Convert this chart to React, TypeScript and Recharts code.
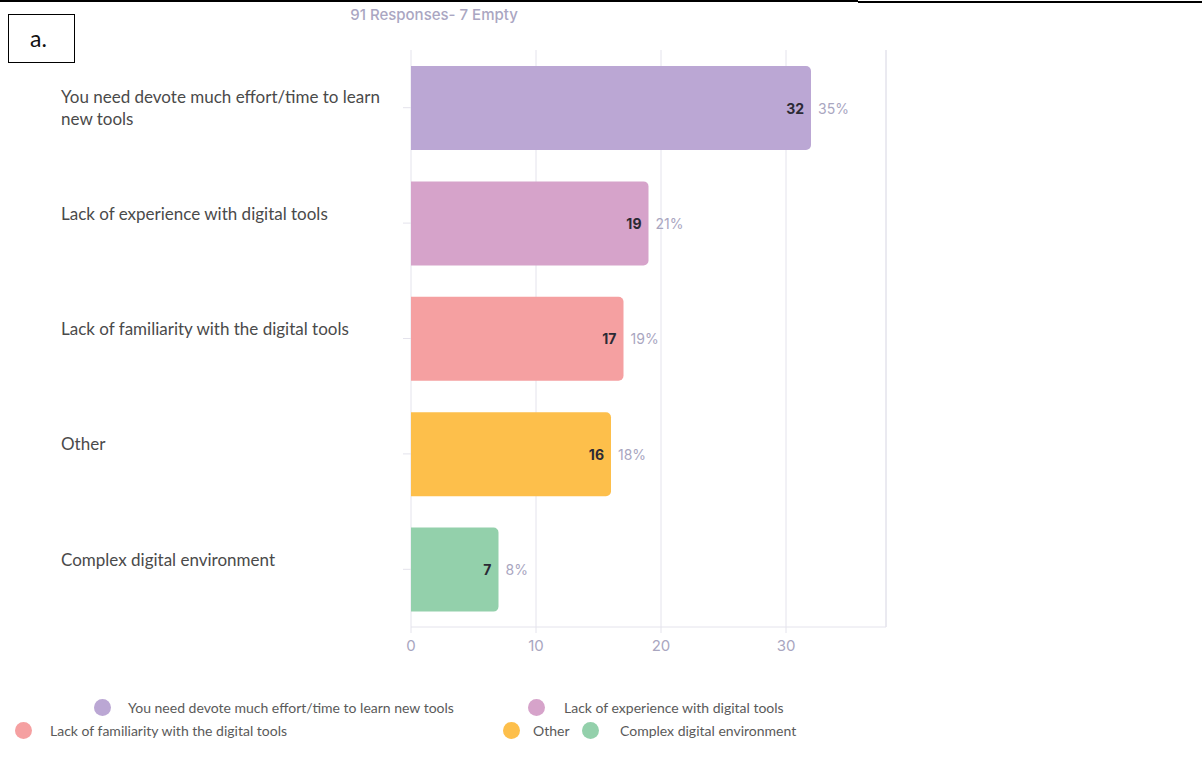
import React from "react";
import {
  BarChart,
  Bar,
  XAxis,
  YAxis,
  CartesianGrid,
  ReferenceLine,
  LabelList,
  Cell,
  Legend,
} from "recharts";

const categories = [
  "You need devote much effort/time to learn new tools",
  "Lack of experience with digital tools",
  "Lack of familiarity with the digital tools",
  "Other",
  "Complex digital environment",
];
const counts = [32, 19, 17, 16, 7];
const percents = [35, 21, 19, 18, 8];
const colors = ["#bba7d4", "#d6a3ca", "#f5a0a1", "#fdbf4b", "#93d0ab"];
const xTicks = [0, 10, 20, 30];
const xMax = 38;
const title = "91 Responses- 7 Empty";
const panelLabel = "a.";

const data = categories.map((name, i) => ({
  name,
  count: counts[i],
  pct: percents[i],
}));

const GRID = "#e4e3ec";
const MUTED = "#a9a6bf";
const LEGEND_H = 50;

function wrap(text: string, max: number): string[] {
  const words = text.split(" ");
  const lines: string[] = [];
  let cur = "";
  for (const w of words) {
    const next = cur ? cur + " " + w : w;
    if (next.length > max && cur) {
      lines.push(cur);
      cur = w;
    } else cur = next;
  }
  if (cur) lines.push(cur);
  return lines;
}

const CategoryTick = (props: any) => {
  const { y, payload } = props;
  const lines = wrap(String(payload.value), 42);
  const lh = 22;
  const startY = lines.length > 1 ? y - ((lines.length - 1) * lh) / 2 : y - 10;
  return (
    <g>
      <line x1={403} x2={411} y1={y} y2={y} stroke={GRID} />
      <text
        x={61}
        y={startY}
        fill="#4a4a4a"
        fontSize={17}
        fontFamily="Lato, 'Open Sans', sans-serif"
      >
        {lines.map((l, i) => (
          <tspan key={i} x={61} y={startY + i * lh} dominantBaseline="central">
            {l}
          </tspan>
        ))}
      </text>
    </g>
  );
};

const ValueLabel = (props: any) => {
  const { x, y, width, height, index } = props;
  const endX = x + width;
  const cy = y + height / 2;
  return (
    <g fontFamily="Inter, 'Noto Sans', sans-serif" fontSize={14}>
      <text
        x={endX - 7}
        y={cy}
        textAnchor="end"
        dominantBaseline="central"
        fill="#2b2a35"
        fontWeight={700}
      >
        {counts[index]}
      </text>
      <text x={endX + 7} y={cy} dominantBaseline="central" fill={MUTED}>
        {percents[index]}%
      </text>
    </g>
  );
};

// Legend laid out in two staggered rows
const legendSlots = [
  { left: 94, top: 0, textGap: 34 },
  { left: 528, top: 0, textGap: 36 },
  { left: 15, top: 23, textGap: 35 },
  { left: 503, top: 23, textGap: 30 },
  { left: 582, top: 23, textGap: 38 },
];

const LegendContent = () => (
  <div style={{ position: "relative", width: 1202, height: LEGEND_H }}>
    {categories.map((c, i) => (
      <div
        key={c}
        style={{
          position: "absolute",
          left: legendSlots[i].left,
          top: legendSlots[i].top,
          display: "flex",
          alignItems: "center",
          height: 18,
          fontFamily: "Lato, 'Open Sans', sans-serif",
          fontSize: 14,
          color: "#5a5a5a",
          whiteSpace: "nowrap",
        }}
      >
        <span
          style={{
            width: 17,
            height: 17,
            borderRadius: "50%",
            background: colors[i],
            display: "inline-block",
            marginRight: legendSlots[i].textGap - 17,
          }}
        />
        {c}
      </div>
    ))}
  </div>
);

export default function App() {
  return (
    <div
      style={{
        position: "absolute",
        left: 0,
        top: 0,
        width: 1202,
        height: 776,
        background: "#fff",
        overflow: "hidden",
      }}
    >
      <div
        style={{
          position: "absolute",
          left: 0,
          top: 0,
          width: 858,
          height: 2,
          background: "#000",
        }}
      />
      <div
        style={{
          position: "absolute",
          left: 858,
          top: 1,
          width: 344,
          height: 2,
          background: "#000",
        }}
      />
      <div
        style={{
          position: "absolute",
          left: 8,
          top: 14,
          width: 67,
          height: 49,
          border: "1px solid #000",
          fontFamily: "Lato, 'Open Sans', sans-serif",
          fontSize: 23,
          lineHeight: "47px",
          paddingLeft: 21,
          boxSizing: "border-box",
          color: "#111",
        }}
      >
        {panelLabel}
      </div>
      <div
        style={{
          position: "absolute",
          left: 434,
          top: 5,
          transform: "translateX(-50%)",
          fontFamily: "Inter, 'Noto Sans', sans-serif",
          fontSize: 15,
          fontWeight: 500,
          color: "#aaa6c2",
          whiteSpace: "nowrap",
        }}
      >
        {title}
      </div>
      <div style={{ position: "absolute", left: 0, top: 0 }}>
        <BarChart
          width={1202}
          height={776}
          data={data}
          layout="vertical"
          margin={{ top: 50, right: 316, bottom: 119 - LEGEND_H, left: 0 }}
          barSize={84}
        >
          <CartesianGrid horizontal={false} stroke={GRID} />
          <XAxis
            type="number"
            domain={[0, xMax]}
            ticks={xTicks}
            axisLine={{ stroke: GRID }}
            tickLine={{ stroke: GRID }}
            tickSize={6}
            tickMargin={7}
            height={30}
            tick={{
              fill: MUTED,
              fontSize: 15,
              fontFamily: "Inter, 'Noto Sans', sans-serif",
            }}
          />
          <YAxis
            type="category"
            dataKey="name"
            width={411}
            axisLine={false}
            tickLine={false}
            tick={<CategoryTick />}
            interval={0}
          />
          <ReferenceLine x={xMax} stroke={GRID} />
          <Legend
            verticalAlign="bottom"
            height={LEGEND_H}
            content={<LegendContent />}
            wrapperStyle={{ position: "absolute", left: 0, top: 698, width: 1202 }}
          />
          <Bar dataKey="count" radius={[0, 5, 5, 0]} isAnimationActive={false}>
            {data.map((d, i) => (
              <Cell key={d.name} fill={colors[i]} />
            ))}
            <LabelList dataKey="count" content={<ValueLabel />} />
          </Bar>
        </BarChart>
      </div>
    </div>
  );
}
